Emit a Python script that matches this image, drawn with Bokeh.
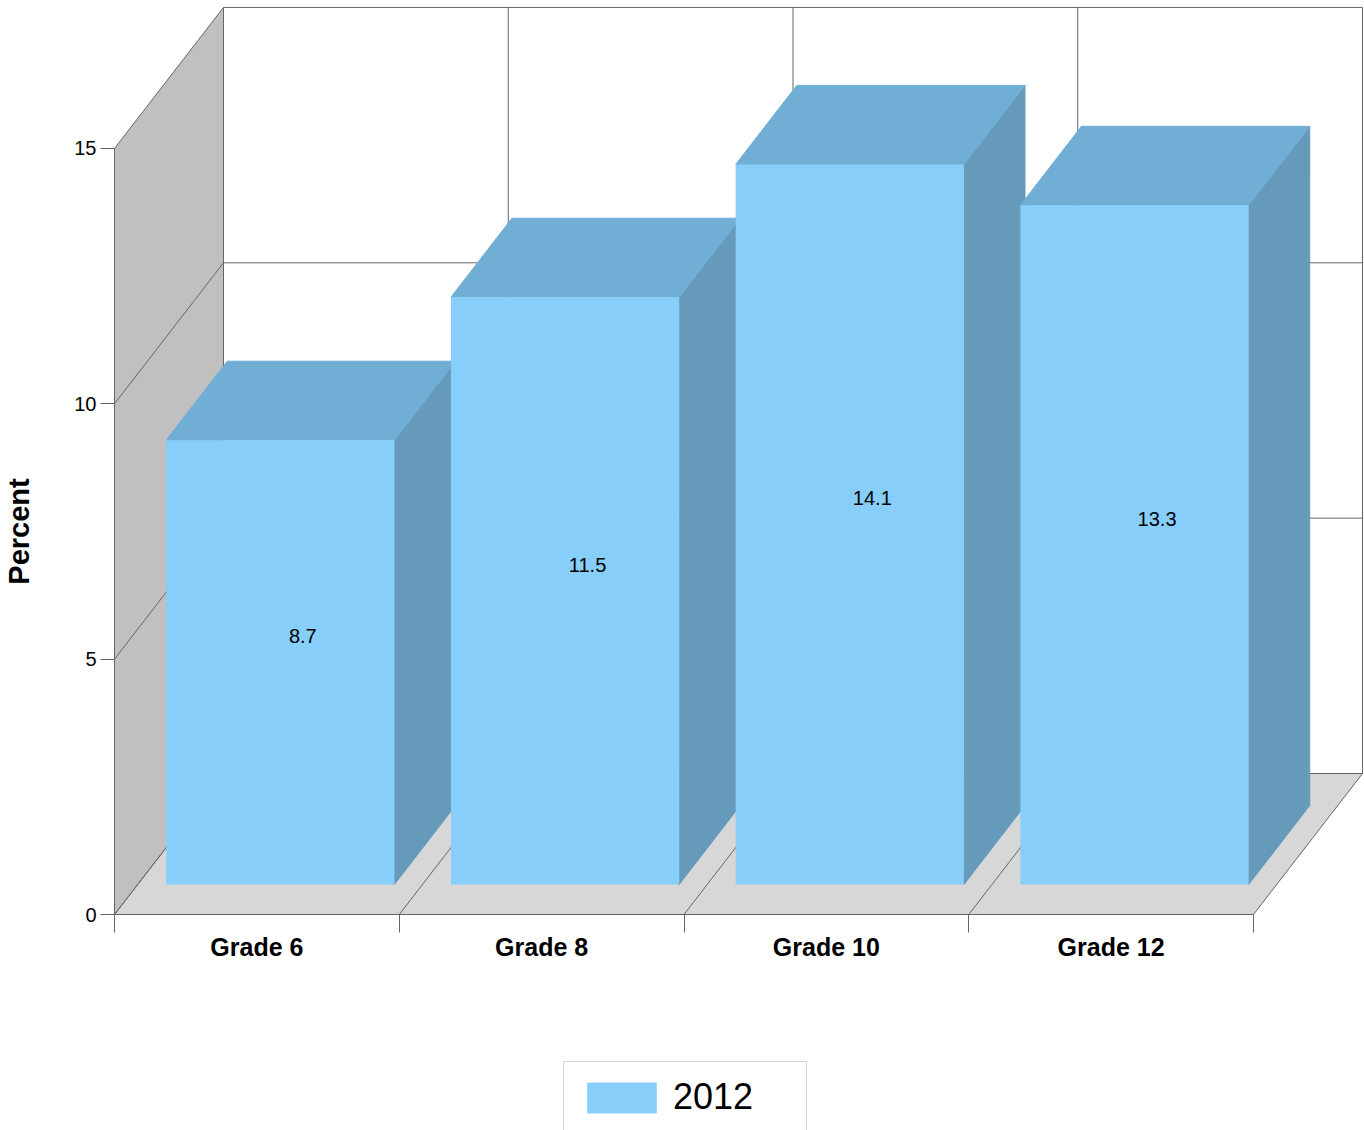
from bokeh.embed import file_html
from bokeh.resources import INLINE
from bokeh.plotting import figure
from bokeh.models import (FixedTicker, Legend, LegendItem, LinearAxis, Range1d)
from bokeh.core.properties import value

# ---- data
categories = ["Grade 6", "Grade 8", "Grade 10", "Grade 12"]
values_2012 = [8.7, 11.5, 14.1, 13.3]
value_labels = ["8.7", "11.5", "14.1", "13.3"]
y_ticks = [0, 5, 10, 15]
series_name = "2012"

# ---- layout: pixel scale of the axes
W, H = 1364, 1130
X0_PX, Y0_PX = 114, 914              # canvas position of the data origin
UX, UY = 284.75, 51.07               # pixels per category / per percent
DX, DY = 109 / UX, 141 / UY          # chart depth in data units
BAR_D0, BAR_D = 30 / 141, 79 / 141   # bar's start and extent in the depth
BAR_GAP, BAR_W = 0.1, 228.25 / UX

FRONT, TOP, SIDE = "#87CEFA", "#70AED5", "#659ABB"
FLOOR, WALL, GRID = "#D7D7D7", "#C0C0C0", "#666666"
FONT = "Liberation Sans"

p = figure(width=W, height=H, output_backend="svg", toolbar_location=None,
           x_range=Range1d(-X0_PX / UX, (W - X0_PX) / UX),
           y_range=Range1d(-(H - Y0_PX) / UY, Y0_PX / UY),
           x_axis_type=None, y_axis_type=None,
           min_border=0, min_border_left=0, min_border_right=0,
           min_border_top=0, min_border_bottom=0, outline_line_color=None)
p.grid.visible = False

n = len(categories)
ymax = y_ticks[-1]

# walls and floor
p.patch([0, DX, DX, 0], [0, DY, ymax + DY, ymax], fill_color=WALL, line_color=None)
p.patch([0, n, n + DX, DX], [0, 0, DY, DY], fill_color=FLOOR, line_color=None)

xs, ys = [], []
for t in y_ticks:
    xs += [[DX, n + DX], [0, DX]]
    ys += [[t + DY, t + DY], [t, t + DY]]
for i in range(n + 1):
    xs += [[i + DX, i + DX], [i, i + DX]]
    ys += [[DY, ymax + DY], [0, DY]]
p.multi_line(xs, ys, line_color=GRID, line_width=1)

# bars
front_renderer = None
for i, v in enumerate(values_2012):
    x0 = i + BAR_D0 * DX + BAR_GAP
    x1 = x0 + BAR_W
    y_base = BAR_D0 * DY
    y_top = v + y_base
    ddx, ddy = BAR_D * DX, BAR_D * DY
    p.patch([x1, x1 + ddx, x1 + ddx, x1], [y_base, y_base + ddy, y_top + ddy, y_top],
            fill_color=SIDE, line_color=SIDE, line_width=1)
    p.patch([x0, x1, x1 + ddx, x0 + ddx], [y_top, y_top, y_top + ddy, y_top + ddy],
            fill_color=TOP, line_color=TOP, line_width=1)
    r = p.patch([x0, x1, x1, x0], [y_base, y_base, y_top, y_top],
                fill_color=FRONT, line_color=None)
    if front_renderer is None:
        front_renderer = r

# value labels
lx = [i + BAR_D0 * DX + BAR_GAP + BAR_W / 2 + 22.5 / UX for i in range(n)]
ly = [v / 2 + BAR_D0 * DY + 26 / UY for v in values_2012]
p.text(lx, ly, text=value_labels, text_font=value(FONT), text_font_size="20px",
       text_align="center", text_baseline="middle", text_color="#000000")

# axes
yax = LinearAxis(fixed_location=0, bounds=(0, ymax), ticker=FixedTicker(ticks=y_ticks),
                 axis_label="Percent", axis_label_standoff=36,
                 axis_label_text_font=FONT, axis_label_text_font_style="bold",
                 axis_label_text_font_size="29px", axis_label_text_color="#000000",
                 major_label_text_font=FONT, major_label_text_font_size="20px",
                 major_label_text_color="#000000", major_label_standoff=4,
                 major_tick_out=14, major_tick_in=0, minor_tick_out=0, minor_tick_in=0,
                 axis_line_color=GRID, major_tick_line_color=GRID)
p.add_layout(yax, "left")

centers = [i + 0.5 for i in range(n)]
xax = LinearAxis(fixed_location=0, bounds=(0, n),
                 ticker=FixedTicker(ticks=centers, minor_ticks=list(range(n + 1))),
                 major_label_overrides={c: t for c, t in zip(centers, categories)},
                 major_label_text_font=FONT, major_label_text_font_style="bold",
                 major_label_text_font_size="25px", major_label_text_color="#000000",
                 major_label_standoff=0, major_tick_out=0, major_tick_in=0,
                 minor_tick_out=18, minor_tick_in=0,
                 axis_line_color=GRID, major_tick_line_color=None, minor_tick_line_color=GRID)
p.add_layout(xax, "below")

legend = Legend(items=[LegendItem(label=series_name, renderers=[front_renderer])],
                location=(563, -3), margin=0, padding=14, spacing=0,
                glyph_width=87, glyph_height=39, label_standoff=8, label_width=119,
                label_text_font=FONT, label_text_font_size="36px",
                label_text_color="#000000", border_line_color="#AAAAAA",
                border_line_width=1, background_fill_color="#FFFFFF", background_fill_alpha=1)
p.add_layout(legend, "center")

open("out.html", "w").write(file_html(p, INLINE))
